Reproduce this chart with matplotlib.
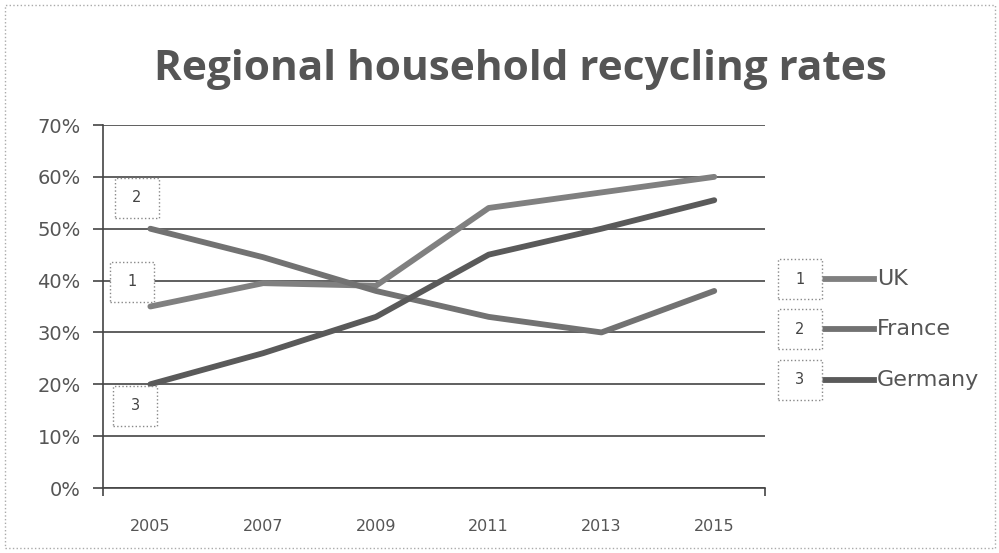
import matplotlib
matplotlib.use("Agg")
import matplotlib.pyplot as plt
from matplotlib.patches import Rectangle
from matplotlib.lines import Line2D
from matplotlib.ticker import FuncFormatter, FixedLocator

years = ["2005", "2007", "2009", "2011", "2013", "2015"]
uk = [35, 39.5, 39, 54, 57, 60]
france = [50, 44.5, 38, 33, 30, 38]
germany = [20, 26, 33, 45, 50, 55.5]
series_names = ["UK", "France", "Germany"]
series_nums = ["1", "2", "3"]
series = [uk, france, germany]
colors = ["#808080", "#727272", "#5a5a5a"]

fig = plt.figure(figsize=(9.99, 5.53), dpi=100)
W, H = 999, 553

def fx(px):
    return px / W

def fy(py):
    return 1 - py / H

ax = fig.add_axes([fx(103), fy(488), fx(765) - fx(103), fy(125) - fy(488)])
x = list(range(len(years)))
for vals, c in zip(series, colors):
    ax.plot(x, vals, color=c, lw=4.2, solid_capstyle="round", solid_joinstyle="round", zorder=3)

ax.set_ylim(0, 70)
ax.set_xlim(-0.42, 5.45)
ax.set_yticks(range(0, 71, 10))
ax.yaxis.set_major_formatter(FuncFormatter(lambda v, p: f"{int(v)}%"))
ax.set_xticks(x)
ax.set_xticklabels(years)
ax.xaxis.set_minor_locator(FixedLocator([-0.42, 5.45]))
ax.grid(axis="y", color="#444444", lw=1.2)
ax.set_axisbelow(True)
for s in ["top", "right"]:
    ax.spines[s].set_visible(False)
ax.spines["left"].set_color("#444444")
ax.spines["bottom"].set_color("#444444")
ax.spines["left"].set_linewidth(1.2)
ax.spines["bottom"].set_linewidth(1.2)
ax.tick_params(axis="y", colors="#444444", labelcolor="#555555", labelsize=14, length=7, width=1.2, pad=9)
ax.tick_params(axis="x", which="major", length=0, labelcolor="#555555", labelsize=11.5, pad=22)
ax.tick_params(axis="x", which="minor", length=6, width=1.2, color="#444444")

fig.text(fx(520), fy(70), "Regional household recycling rates", ha="center", va="center",
         fontsize=30.5, fontweight="bold", color="#555555", family="Open Sans")

def numbox(px, py, w, h, label):
    r = Rectangle((fx(px), fy(py + h)), fx(w), h / H, transform=fig.transFigure,
                  fill=True, facecolor="white", edgecolor="#888888", lw=1, ls=":", zorder=5)
    fig.patches.append(r)
    fig.text(fx(px + w / 2), fy(py + h / 2), label, ha="center", va="center", fontsize=10.5, color="#444444", zorder=6)

# data label boxes
numbox(115, 178, 44, 40, "2")
numbox(110, 262, 44, 40, "1")
numbox(113, 386, 44, 40, "3")

# legend
leg_y = [279, 329, 380]
for yy, name, num, c in zip(leg_y, series_names, series_nums, colors):
    numbox(778, yy - 20, 44, 40, num)
    fig.add_artist(Line2D([fx(825), fx(874)], [fy(yy), fy(yy)], color=c, lw=4.2,
                          transform=fig.transFigure))
    fig.text(fx(877), fy(yy), name, ha="left", va="center", fontsize=16, color="#555555")

border = Rectangle((fx(5), fy(548)), fx(990), 543 / H, transform=fig.transFigure,
                   fill=False, edgecolor="#aaaaaa", lw=1, ls=":")
fig.patches.append(border)

fig.savefig("out.png", dpi=100, facecolor="white")
